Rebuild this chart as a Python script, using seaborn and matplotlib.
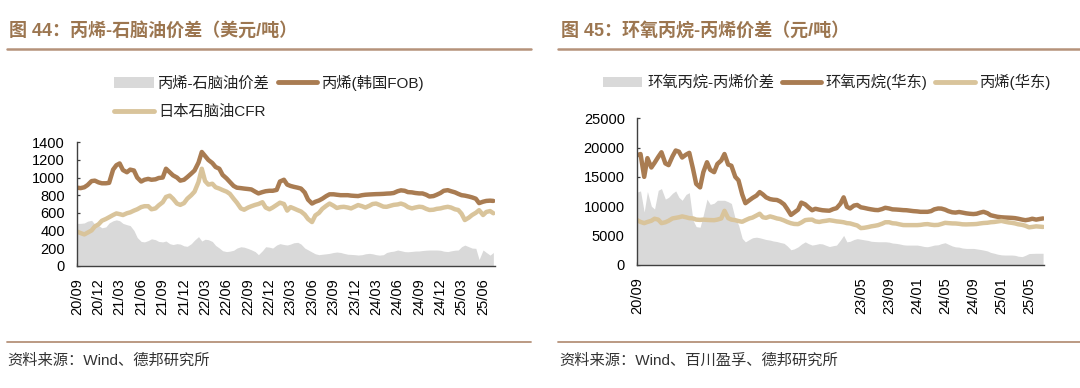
import pandas as pd
import seaborn as sns
import matplotlib.pyplot as plt
from matplotlib.patches import Patch
from matplotlib.lines import Line2D

# ---- data: left chart (USD/t), semi-monthly readings from 2020-09-01 ----
left_dates = pd.date_range('2020-09-01', periods=118, freq='SMS')
fob_korea = [
    885, 880, 890, 915, 960, 965, 945, 935, 935, 940,
    1090, 1140, 1160, 1085, 1060, 1090, 1080, 1000, 955, 975,
    985, 975, 980, 995, 1000, 1100, 1060, 1025, 1000, 965,
    975, 1005, 1045, 1080, 1170, 1290, 1245, 1200, 1165, 1120,
    1100, 1030, 990, 950, 905, 885, 880, 875, 870, 865,
    840, 820, 835, 845, 850, 850, 860, 955, 975, 920,
    905, 895, 885, 875, 830, 750, 705, 725, 740, 760,
    790, 810, 810, 805, 800, 800, 800, 795, 792, 790,
    800, 805, 808, 810, 812, 813, 815, 818, 820, 825,
    845, 855, 850, 835, 832, 825, 820, 820, 805, 785,
    790, 805, 825, 850, 857, 845, 832, 815, 800, 795,
    785, 775, 760, 710, 726, 735, 738, 735]
naphtha_cfr = [
    386, 370, 355, 375, 400, 445, 470, 510, 530, 550,
    575, 593, 585, 575, 595, 605, 625, 640, 665, 675,
    675, 640, 650, 685, 720, 780, 795, 760, 705, 690,
    710, 760, 800, 840, 950, 1100, 960, 920, 930, 890,
    875, 858, 840, 815, 760, 715, 650, 635, 660, 675,
    690, 700, 720, 660, 640, 660, 690, 715, 700, 625,
    665, 650, 630, 615, 580, 530, 495, 570, 600, 645,
    680, 705, 680, 655, 665, 668, 660, 650, 670, 688,
    675, 660, 680, 700, 705, 690, 670, 668, 680, 690,
    695, 705, 690, 665, 650, 660, 669, 665, 645, 632,
    635, 645, 650, 660, 668, 660, 640, 632, 590, 518,
    545, 575, 600, 630, 575, 610, 620, 595]
left_spread = [
    480, 480, 485, 505, 515, 470, 455, 430, 440, 485,
    510, 520, 510, 480, 465, 455, 400, 320, 275, 270,
    285, 305, 295, 275, 270, 280, 250, 240, 250, 245,
    225, 220, 250, 290, 330, 280, 300, 295, 275, 230,
    200, 170, 160, 165, 175, 200, 215, 210, 195, 180,
    160, 125, 170, 215, 210, 200, 235, 250, 240, 235,
    245, 260, 265, 245, 200, 180, 155, 135, 125, 130,
    135, 140, 150, 155, 150, 140, 130, 128, 125, 121,
    125, 135, 140, 135, 125, 120, 125, 150, 160, 165,
    178, 170, 160, 158, 162, 166, 167, 172, 176, 178,
    178, 178, 175, 165, 160, 168, 176, 178, 215, 234,
    215, 200, 197, 70, 178, 150, 120, 150]

# ---- data: right chart (CNY/t), semi-monthly readings from 2020-09-01 ----
right_dates = pd.date_range('2020-09-01', periods=117, freq='SMS')
po_east = [
    18700, 18900, 15000, 18200, 16600, 17400, 18400, 19200, 17300, 17000,
    18500, 19500, 19300, 18300, 18800, 19100, 16400, 13800, 13200, 15800,
    17500, 16200, 15800, 17200, 17800, 18900, 17100, 16900, 15000, 14400,
    12000, 10500, 11000, 11400, 11800, 12400, 12000, 11500, 11200, 11100,
    11050, 10800, 10300, 9500, 8500, 8900, 9400, 10600, 10300, 9800,
    9300, 9550, 9400, 9300, 9250, 9220, 9500, 9650, 10400, 11500,
    9900, 9600, 10100, 10200, 9800, 9700, 9550, 9450, 9350, 9320,
    9500, 9720, 9600, 9450, 9420, 9380, 9320, 9300, 9220, 9150,
    9100, 9030, 9030, 9030, 9150, 9450, 9600, 9580, 9400, 9150,
    8950, 8900, 9000, 8900, 8770, 8700, 8650, 8700, 8900, 9030,
    8800, 8450, 8300, 8180, 8100, 8060, 8030, 8000, 7950, 7850,
    7700, 7600, 7700, 7850, 7700, 7800, 7900]
propylene_east = [
    7600, 7300, 7100, 7300, 7500, 7850, 7700, 7100, 7250, 7500,
    7900, 8000, 8100, 8250, 8100, 7950, 7900, 7700, 7650, 7700,
    7650, 7620, 7600, 7700, 7900, 9200, 7950, 7700, 7600, 7450,
    7330, 7600, 7900, 8050, 8400, 8700, 8100, 8000, 8250, 8100,
    7900, 7800, 7550, 7300, 7080, 6960, 6930, 7200, 7610, 7680,
    7700, 7400, 7300, 7420, 7500, 7600, 7500, 7400, 7330, 7250,
    7100, 7050, 6850, 6700, 6250, 6300, 6420, 6550, 6650, 6760,
    7000, 7250, 7250, 7080, 7030, 6900, 6770, 6760, 6760, 6760,
    6760, 6800, 6900, 6930, 6830, 6770, 6800, 6950, 7150, 7100,
    7050, 7040, 6980, 6900, 6880, 6900, 6920, 6950, 7050, 7120,
    7160, 7250, 7300, 7380, 7480, 7350, 7220, 7150, 7050, 6900,
    6800, 6650, 6380, 6450, 6550, 6500, 6450]
right_spread = [
    12400, 12600, 9000, 12500, 10000, 9500, 12700, 13000, 11200, 11500,
    12200, 12600, 11500, 11000, 12000, 12300, 7600, 6500, 6400, 8500,
    11200, 10300, 10500, 11000, 11000, 11000, 10750, 10450, 7800, 6800,
    4500, 3900, 4300, 4600, 4700, 4600, 4450, 4300, 4200, 4050,
    3950, 3800, 3650, 3200, 2550, 2700, 3050, 3500, 3900, 3600,
    3350, 3450, 3600, 3550, 3300, 3100, 3250, 3350, 4200, 5000,
    3900, 4000, 4300, 4450, 4350, 4250, 4150, 4000, 3950, 3920,
    3920, 3920, 3850, 3700, 3640, 3550, 3400, 3350, 3350, 3350,
    3350, 3250, 3100, 3070, 3200, 3350, 3400, 3600, 3750, 3500,
    3200, 3050, 3000, 2850, 2780, 2780, 2780, 2700, 2600, 2500,
    2350, 2100, 1950, 1800, 1680, 1650, 1650, 1650, 1600, 1450,
    1380, 1600, 1900, 1930, 1950, 1950, 1950]

left_tick_dates = pd.date_range('2020-09-01', '2025-06-01', freq='3MS')
left_tick_labels = ['20/09', '20/12', '21/03', '21/06', '21/09', '21/12', '22/03',
                    '22/06', '22/09', '22/12', '23/03', '23/06', '23/09', '23/12',
                    '24/03', '24/06', '24/09', '24/12', '25/03', '25/06']
right_tick_dates = pd.date_range('2020-09-01', '2025-05-01', freq='4MS')
right_tick_labels = ['20/09', '', '', '', '', '', '', '', '23/05', '23/09',
                     '24/01', '24/05', '24/09', '25/01', '25/05']

BROWN = '#a97c52'
TAN = '#d9c49b'
GRAY = '#d9d9d9'
TITLE = '#9c7650'
RULE = '#b5927a'

sns.set_style("ticks")
plt.rcParams['font.family'] = ['Liberation Sans', 'Noto Sans CJK SC']
plt.rcParams['axes.unicode_minus'] = False

fig = plt.figure(figsize=(10.8, 3.88), dpi=100)
W, H = 1080, 388


def px_axes(x0, y0, x1, y1):
    return fig.add_axes([x0 / W, 1 - y1 / H, (x1 - x0) / W, (y1 - y0) / H])


def style_axes(ax):
    for s in ['top', 'right']:
        ax.spines[s].set_visible(False)
    for s in ['left', 'bottom']:
        ax.spines[s].set_color('#404040')
        ax.spines[s].set_linewidth(1.0)
    ax.tick_params(axis='both', direction='in', length=2.5, width=0.9,
                   color='#404040', labelsize=10.5, labelcolor='#000000', pad=9)
    ax.set_xlabel('')
    ax.set_ylabel('')


# left chart
ax1 = px_axes(77.3, 142.3, 495, 265.7)
ax1.fill_between(left_dates, left_spread, color=GRAY, lw=0)
sns.lineplot(x=left_dates, y=fob_korea, ax=ax1, color=BROWN, lw=3.2)
sns.lineplot(x=left_dates, y=naphtha_cfr, ax=ax1, color=TAN, lw=3.2)
ax1.set_xlim(pd.Timestamp('2020-09-01'), pd.Timestamp('2025-07-22'))
ax1.set_ylim(0, 1400)
ax1.set_yticks(range(0, 1401, 200))
ax1.set_xticks(left_tick_dates)
ax1.set_xticklabels(left_tick_labels, rotation=90)
style_axes(ax1)

# right chart
ax2 = px_axes(637.3, 118.3, 1044, 264.7)
ax2.fill_between(right_dates, right_spread, color=GRAY, lw=0)
sns.lineplot(x=right_dates, y=po_east, ax=ax2, color=BROWN, lw=3.2)
sns.lineplot(x=right_dates, y=propylene_east, ax=ax2, color=TAN, lw=3.2)
ax2.set_xlim(pd.Timestamp('2020-09-01'), pd.Timestamp('2025-07-05'))
ax2.set_ylim(0, 25000)
ax2.set_yticks(range(0, 25001, 5000))
ax2.set_xticks(right_tick_dates)
ax2.set_xticklabels(right_tick_labels, rotation=90)
style_axes(ax2)

# legends
leg_kw = dict(loc='upper left', frameon=False, fontsize=11, handlelength=2.6,
              handletextpad=0.3, columnspacing=0.5, borderpad=0, borderaxespad=0,
              labelcolor='#222222')
h_gray = Patch(facecolor=GRAY, edgecolor='none')
h_brown = Line2D([], [], color=BROWN, lw=3.5)
h_tan = Line2D([], [], color=TAN, lw=3.5)
fig.legend([h_gray, h_tan, h_brown], ['丙烯-石脑油价差', '日本石脑油CFR', '丙烯(韩国FOB)'],
           ncol=2, labelspacing=0.95, bbox_to_anchor=(114 / W, 1 - 74.5 / H), **leg_kw)
fig.legend([h_gray, h_brown, h_tan], ['环氧丙烷-丙烯价差', '环氧丙烷(华东)', '丙烯(华东)'],
           ncol=3, bbox_to_anchor=(602.7 / W, 1 - 74 / H), **leg_kw)

# titles, rules and sources
fig.text(8.7 / W, 1 - 30.7 / H, '图 44：丙烯-石脑油价差（美元/吨）', fontsize=13,
         fontweight='bold', color=TITLE, va='center', ha='left')
fig.text(561 / W, 1 - 30.7 / H, '图 45：环氧丙烷-丙烯价差（元/吨）', fontsize=13,
         fontweight='bold', color=TITLE, va='center', ha='left')
for x0, x1 in [(7, 531), (558, 1080)]:
    fig.add_artist(Line2D([x0 / W, x1 / W], [1 - 48.8 / H] * 2, color=RULE, lw=1.8))
    fig.add_artist(Line2D([x0 / W, x1 / W], [1 - 342 / H] * 2, color=RULE, lw=1.3))
fig.text(7.7 / W, 1 - 361 / H, '资料来源：Wind、德邦研究所', fontsize=11,
         color='#333333', va='center', ha='left')
fig.text(559 / W, 1 - 361 / H, '资料来源：Wind、百川盈孚、德邦研究所', fontsize=11,
         color='#333333', va='center', ha='left')

fig.savefig('out.png', dpi=100)
